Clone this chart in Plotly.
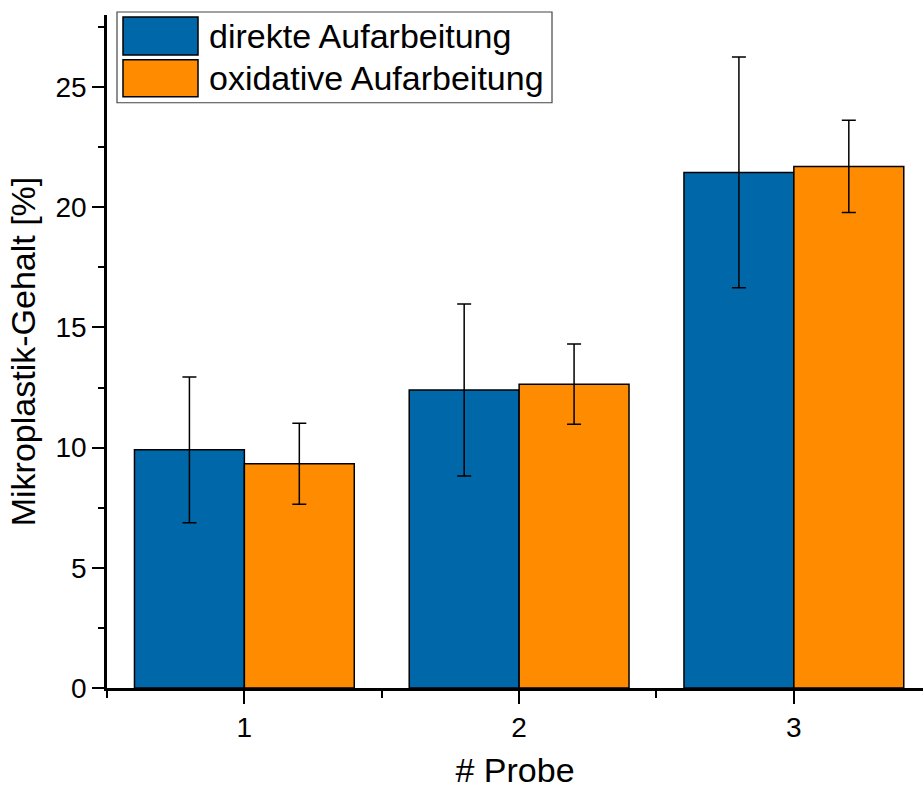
import plotly.graph_objects as go

probes = [1, 2, 3]
direkt = [9.91, 12.40, 21.45]
direkt_err = [3.03, 3.58, 4.80]
oxidativ = [9.33, 12.64, 21.70]
oxidativ_err = [1.68, 1.67, 1.92]
series_names = ["direkte Aufarbeitung", "oxidative Aufarbeitung"]
colors = ["#0067A9", "#FF8C00"]

W, H = 923, 789
L, R, T, B = 107, 0, 15, 99
pw, ph = W - L - R, H - T - B

def px(x):
    return (x - L) / pw

def py(y):
    return (H - B - y) / ph

fig = go.Figure()
for name, vals, errs, col in [(series_names[0], direkt, direkt_err, colors[0]),
                              (series_names[1], oxidativ, oxidativ_err, colors[1])]:
    fig.add_trace(go.Bar(
        x=probes, y=vals, name=name, marker=dict(color=col, line=dict(color="black", width=1.5)),
        error_y=dict(type="data", array=errs, visible=True, color="black", thickness=1.5, width=7),
        showlegend=False,
    ))

font = "Liberation Sans, Arial, sans-serif"
fig.update_layout(
    width=W, height=H, barmode="group", bargap=0.2, bargroupgap=0,
    margin=dict(l=L, r=R, t=T, b=B),
    paper_bgcolor="white", plot_bgcolor="white",
    font=dict(family=font, color="black"),
    xaxis=dict(range=[0.5, 3.47], tickmode="array", tickvals=probes, ticktext=[str(p) for p in probes],
               showline=True, linecolor="black", linewidth=2.5, ticks="outside", ticklen=13, tickwidth=2,
               tickcolor="black", showgrid=False, zeroline=False,
               tickfont=dict(size=28),
               minor=dict(tickvals=[0.5, 1.5, 2.5], ticks="outside", ticklen=7, tickwidth=2, tickcolor="black"),
               title=dict(text="# Probe", font=dict(size=34), standoff=22)),
    yaxis=dict(range=[0, 28], dtick=5, showline=True, linecolor="black", linewidth=2.5, ticks="outside",
               ticklen=12, tickwidth=2, tickcolor="black", showgrid=False, zeroline=False,
               tickfont=dict(size=28),
               minor=dict(dtick=2.5, ticks="outside", ticklen=6, tickwidth=2, tickcolor="black"),
               title=dict(text="Mikroplastik-Gehalt [%]", font=dict(size=34), standoff=10)),
)

# custom legend
fig.add_shape(type="rect", xref="paper", yref="paper", x0=px(117), x1=px(552), y0=py(12), y1=py(103),
              line=dict(color="#444", width=1.2), fillcolor="white", layer="above")
for i, (name, col) in enumerate(zip(series_names, colors)):
    y0, y1 = (17, 55) if i == 0 else (60, 97)
    fig.add_shape(type="rect", xref="paper", yref="paper", x0=px(123), x1=px(198), y0=py(y0), y1=py(y1),
                  line=dict(color="black", width=1.5), fillcolor=col, layer="above")
    fig.add_annotation(xref="paper", yref="paper", x=px(207), y=py((y0 + y1) / 2), text=name,
                       showarrow=False, xanchor="left", yanchor="middle", font=dict(size=34, family=font))

fig.write_html("out.html")
